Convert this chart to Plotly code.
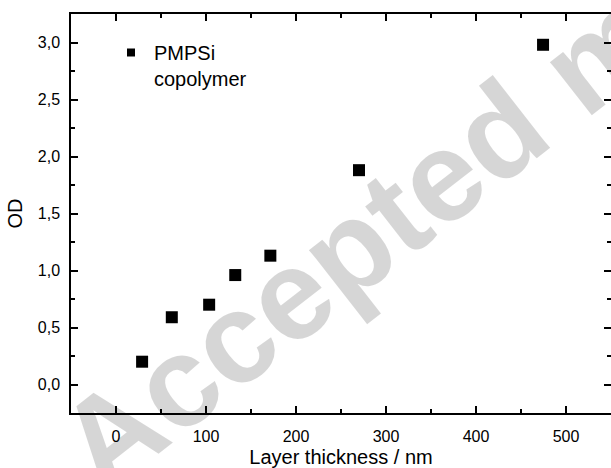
import plotly.graph_objects as go

# Data
thickness_nm = [29, 62, 103.5, 132.5, 171.5, 270, 474.5]
od_values = [0.20, 0.59, 0.70, 0.96, 1.13, 1.88, 2.98]
series_name = "PMPSi<br>copolymer"
x_title = "Layer thickness / nm"
y_title = "OD"
watermark_text = "Accepted manuscript"

W, H = 611, 468
ml, mr, mt, mb = 71, 0, 14, 55
pw = W - ml - mr
ph = H - mt - mb

fig = go.Figure()
fig.add_trace(go.Scatter(
    x=thickness_nm, y=od_values, mode="markers",
    marker=dict(symbol="square", size=12, color="black"),
    showlegend=False, cliponaxis=False,
))
# legend entry (smaller symbol as in the reference)
fig.add_trace(go.Scatter(
    x=[None], y=[None], mode="markers", name=series_name,
    marker=dict(symbol="square", size=8, color="black"),
    showlegend=True,
))

font_family = "Liberation Sans, Arial, sans-serif"
axis_common = dict(
    showline=True, linecolor="black", linewidth=1.5, mirror="ticks",
    ticks="inside", ticklen=7, tickwidth=1.5, tickcolor="black",
    showgrid=False, zeroline=False, automargin=False,
    tickfont=dict(family=font_family, size=16, color="black"),
)

fig.update_xaxes(
    range=[-50, 550], dtick=100, tick0=0,
    minor=dict(ticks="inside", ticklen=4, tickwidth=1.5, tickcolor="black", dtick=50, tick0=0),
    title=dict(text=x_title, font=dict(family=font_family, size=20, color="black"), standoff=8),
    ticklabelstandoff=8,
    **axis_common,
)
fig.update_yaxes(
    range=[-0.25, 3.25], dtick=0.5, tick0=0, tickformat=".1f",
    minor=dict(ticks="inside", ticklen=4, tickwidth=1.5, tickcolor="black", dtick=0.25, tick0=0),
    title=dict(text=y_title, font=dict(family=font_family, size=20, color="black"), standoff=10),
    ticklabelstandoff=6,
    **axis_common,
)

# watermark (translucent so the black chart elements stay black underneath)
wm_cx, wm_cy = 588, 61
fig.add_annotation(
    text=watermark_text, xref="paper", yref="paper",
    x=(wm_cx - ml) / pw, y=(H - mb - wm_cy) / ph, xanchor="center", yanchor="middle",
    textangle=-38, showarrow=False,
    font=dict(family="Liberation Sans, Arial, sans-serif", size=128,
              color="rgba(0,0,0,0.16)", weight="bold"),
)

fig.update_layout(
    width=W, height=H,
    margin=dict(l=ml, r=mr, t=mt, b=mb),
    paper_bgcolor="white", plot_bgcolor="white",
    separators=", ",
    showlegend=True,
    legend=dict(
        x=(108 - ml) / pw, y=(H - mb - 33) / ph, xanchor="left", yanchor="top",
        bgcolor="rgba(0,0,0,0)", valign="top", itemwidth=36,
        font=dict(family=font_family, size=20, color="black"),
    ),
)

fig.write_html(
    "out.html",
    config={"displayModeBar": False},
    post_script="document.body.style.margin='0px';document.body.style.overflow='hidden';",
)
